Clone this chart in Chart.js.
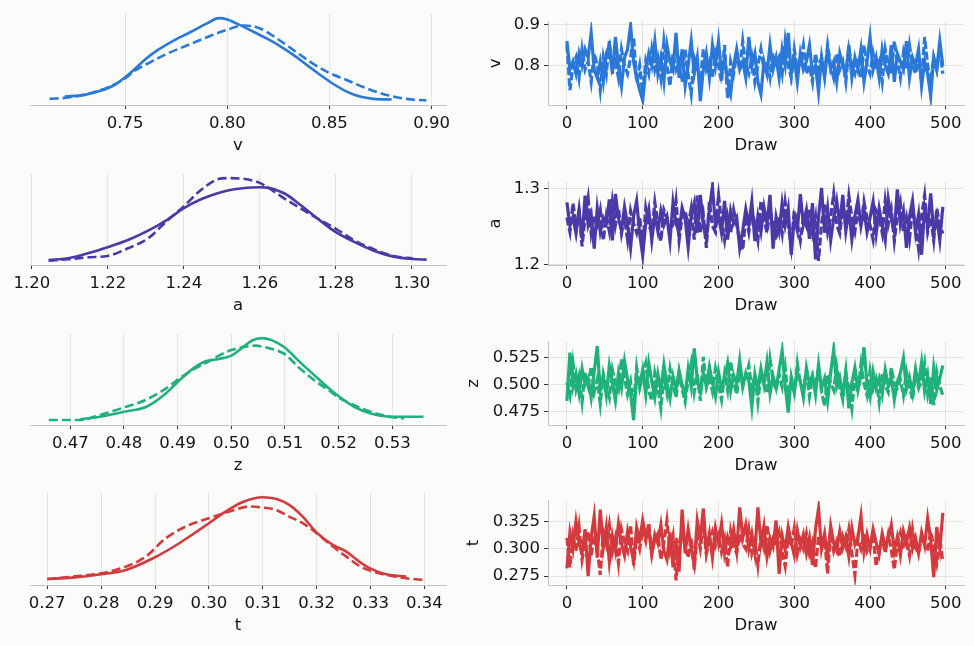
<!DOCTYPE html>
<html>
<head>
<meta charset="utf-8">
<script src="https://cdn.jsdelivr.net/npm/chart.js@4.4.1/dist/chart.umd.min.js"></script>
<style>
  html, body { margin: 0; padding: 0; background: #fbfbf9; }
  body { width: 974px; height: 646px; position: relative; overflow: hidden; }
  canvas { position: absolute; }
</style>
</head>
<body>
<script>
// ---------------- data ----------------
const varNames = ['v', 'a', 'z', 't'];

// KDE curves (x = parameter value, y = relative density), solid = chain 0, dashed = chain 1
const vSolidX = [0.7205, 0.7302, 0.7383, 0.7448, 0.7500, 0.7545, 0.7594, 0.7659, 0.7740, 0.7821, 0.7903, 0.7959, 0.8000, 0.8065, 0.8130, 0.8195, 0.8260, 0.8325, 0.8390, 0.8455, 0.8519, 0.8584, 0.8649, 0.8714, 0.8804];
const vSolidY = [0.052, 0.072, 0.124, 0.191, 0.283, 0.378, 0.490, 0.610, 0.729, 0.829, 0.936, 0.996, 0.980, 0.908, 0.829, 0.749, 0.657, 0.550, 0.430, 0.311, 0.203, 0.112, 0.052, 0.024, 0.016];
const vDashX = [0.7131, 0.7221, 0.7318, 0.7416, 0.7500, 0.7545, 0.7627, 0.7708, 0.7805, 0.7903, 0.8000, 0.8081, 0.8162, 0.8244, 0.8325, 0.8406, 0.8487, 0.8584, 0.8682, 0.8779, 0.8877, 0.8974];
const vDashY = [0.024, 0.040, 0.084, 0.163, 0.271, 0.359, 0.470, 0.570, 0.669, 0.769, 0.857, 0.908, 0.869, 0.749, 0.610, 0.470, 0.351, 0.251, 0.151, 0.072, 0.024, 0.004];

const aSolidX = [1.2044, 1.2096, 1.2148, 1.2199, 1.2253, 1.2306, 1.2358, 1.2399, 1.2445, 1.2489, 1.2533, 1.2598, 1.2620, 1.2664, 1.2707, 1.2751, 1.2798, 1.2847, 1.2900, 1.2952, 1.3002, 1.3039];
const aSolidY = [0.010, 0.031, 0.091, 0.164, 0.252, 0.365, 0.502, 0.635, 0.744, 0.817, 0.865, 0.890, 0.885, 0.817, 0.676, 0.515, 0.353, 0.232, 0.123, 0.051, 0.023, 0.015];
const aDashX = [1.2044, 1.2096, 1.2148, 1.2199, 1.2253, 1.2306, 1.2358, 1.2399, 1.2445, 1.2489, 1.2515, 1.2550, 1.2598, 1.2620, 1.2664, 1.2707, 1.2751, 1.2798, 1.2847, 1.2900, 1.2952, 1.3002];
const aDashY = [0.002, 0.019, 0.043, 0.059, 0.152, 0.273, 0.494, 0.656, 0.857, 0.986, 1.000, 0.995, 0.946, 0.890, 0.756, 0.635, 0.515, 0.394, 0.252, 0.140, 0.059, 0.031];

const zSolidX = [0.4718, 0.4755, 0.4800, 0.4842, 0.4878, 0.4900, 0.4928, 0.4952, 0.4977, 0.5000, 0.5020, 0.5038, 0.5057, 0.5075, 0.5099, 0.5125, 0.5155, 0.5186, 0.5200, 0.5229, 0.5260, 0.5300, 0.5358];
const zSolidY = [0.019, 0.051, 0.111, 0.172, 0.333, 0.474, 0.635, 0.728, 0.756, 0.797, 0.890, 0.978, 1.010, 0.986, 0.898, 0.736, 0.555, 0.373, 0.301, 0.172, 0.091, 0.051, 0.051];
const zDashX = [0.4660, 0.4718, 0.4755, 0.4800, 0.4842, 0.4878, 0.4900, 0.4928, 0.4952, 0.4977, 0.5000, 0.5026, 0.5045, 0.5063, 0.5099, 0.5125, 0.5155, 0.5186, 0.5200, 0.5229, 0.5260, 0.5300, 0.5322];
const zDashY = [0.010, 0.010, 0.071, 0.164, 0.260, 0.394, 0.502, 0.623, 0.704, 0.797, 0.865, 0.906, 0.918, 0.898, 0.817, 0.656, 0.494, 0.353, 0.285, 0.192, 0.111, 0.043, 0.031];

const tSolidX = [0.2700, 0.2746, 0.2800, 0.2846, 0.2900, 0.2945, 0.2982, 0.3000, 0.3031, 0.3062, 0.3100, 0.3124, 0.3149, 0.3174, 0.3200, 0.3230, 0.3255, 0.3279, 0.3299, 0.3329, 0.3366];
const tSolidY = [0.022, 0.038, 0.078, 0.130, 0.282, 0.450, 0.610, 0.690, 0.830, 0.942, 1.002, 0.982, 0.910, 0.770, 0.578, 0.430, 0.350, 0.230, 0.150, 0.078, 0.050];
const tDashX = [0.2700, 0.2746, 0.2800, 0.2846, 0.2883, 0.2920, 0.2957, 0.3000, 0.3044, 0.3075, 0.3100, 0.3124, 0.3149, 0.3174, 0.3200, 0.3230, 0.3255, 0.3279, 0.3299, 0.3329, 0.3366, 0.3400];
const tDashY = [0.022, 0.050, 0.090, 0.170, 0.290, 0.510, 0.650, 0.750, 0.842, 0.890, 0.878, 0.850, 0.770, 0.690, 0.570, 0.410, 0.290, 0.178, 0.122, 0.070, 0.030, 0.010];

// trace values, one every 4 draws (0, 4, ..., 496)
const drawStep = 4;
const vChain0 = [0.86,0.79,0.81,0.78,0.83,0.80,0.84,0.82,0.88,0.79, 0.77,0.81,0.76,0.83,0.85,0.78,0.87,0.80,0.75,0.82,
  0.84,0.898,0.81,0.77,0.74,0.715,0.79,0.83,0.80,0.86, 0.78,0.82,0.76,0.85,0.81,0.79,0.88,0.77,0.84,0.75,
  0.80,0.86,0.78,0.82,0.713,0.79,0.83,0.77,0.85,0.80, 0.86,0.78,0.82,0.76,0.73,0.80,0.84,0.79,0.81,0.77,
  0.87,0.80,0.83,0.76,0.73,0.81,0.78,0.85,0.79,0.82, 0.77,0.84,0.80,0.88,0.78,0.82,0.76,0.83,0.79,0.81,
  0.85,0.78,0.80,0.735,0.82,0.77,0.84,0.79,0.81,0.76, 0.83,0.80,0.78,0.85,0.77,0.82,0.79,0.84,0.76,0.81,
  0.87,0.79,0.82,0.77,0.84,0.80,0.78,0.85,0.76,0.83, 0.81,0.79,0.86,0.77,0.82,0.80,0.84,0.75,0.81,0.78,
  0.725,0.82,0.79,0.86,0.80];
const vChain1 = [0.85,0.74,0.80,0.82,0.77,0.84,0.79,0.81,0.76,0.83, 0.80,0.74,0.82,0.78,0.86,0.79,0.81,0.77,0.84,0.80,
  0.78,0.82,0.87,0.76,0.80,0.73,0.81,0.78,0.84,0.79, 0.82,0.77,0.86,0.80,0.75,0.83,0.79,0.81,0.76,0.84,
  0.78,0.73,0.82,0.80,0.76,0.84,0.79,0.81,0.77,0.83, 0.80,0.76,0.85,0.72,0.81,0.78,0.83,0.79,0.86,0.80,
  0.78,0.82,0.76,0.80,0.84,0.79,0.81,0.77,0.83,0.80, 0.82,0.78,0.86,0.80,0.77,0.84,0.79,0.81,0.85,0.78,
  0.80,0.76,0.83,0.79,0.82,0.78,0.85,0.80,0.77,0.83, 0.79,0.81,0.76,0.84,0.80,0.78,0.82,0.77,0.85,0.80,
  0.78,0.83,0.79,0.81,0.76,0.84,0.80,0.78,0.86,0.81, 0.77,0.83,0.79,0.85,0.80,0.78,0.82,0.76,0.87,0.80,
  0.76,0.82,0.79,0.84,0.78];

const aChain0 = [1.282,1.251,1.263,1.241,1.272,1.234,1.291,1.252,1.266,1.221, 1.274,1.243,1.262,1.254,1.286,1.232,1.293,1.261,1.245,1.276,
  1.253,1.222,1.264,1.284,1.241,1.212,1.255,1.273,1.232,1.266, 1.244,1.271,1.252,1.263,1.231,1.282,1.254,1.243,1.275,1.261,
  1.223,1.264,1.281,1.242,1.292,1.253,1.234,1.272,1.303,1.251, 1.265,1.242,1.284,1.233,1.271,1.254,1.262,1.222,1.245,1.273,
  1.252,1.283,1.231,1.264,1.243,1.276,1.254,1.292,1.221,1.263, 1.244,1.281,1.252,1.274,1.213,1.262,1.245,1.293,1.253,1.272,
  1.234,1.281,1.207,1.263,1.301,1.242,1.274,1.232,1.261,1.284, 1.253,1.292,1.244,1.272,1.233,1.264,1.285,1.251,1.273,1.243,
  1.262,1.283,1.241,1.274,1.252,1.232,1.286,1.261,1.244,1.299, 1.253,1.271,1.222,1.263,1.284,1.242,1.266,1.213,1.275,1.252,
  1.294,1.241,1.263,1.232,1.276];
const aChain1 = [1.262,1.243,1.281,1.252,1.271,1.224,1.263,1.288,1.242,1.265, 1.253,1.272,1.232,1.264,1.244,1.283,1.252,1.274,1.241,1.262,
  1.233,1.271,1.254,1.242,1.263,1.222,1.274,1.251,1.243,1.282, 1.254,1.231,1.272,1.262,1.244,1.253,1.284,1.232,1.263,1.271,
  1.252,1.274,1.233,1.291,1.242,1.265,1.222,1.283,1.251,1.243, 1.292,1.254,1.232,1.263,1.241,1.272,1.253,1.231,1.219,1.264,
  1.243,1.272,1.254,1.232,1.284,1.261,1.242,1.273,1.252,1.233, 1.264,1.241,1.282,1.253,1.223,1.271,1.254,1.232,1.262,1.251,
  1.273,1.242,1.263,1.205,1.254,1.281,1.243,1.262,1.293,1.252, 1.241,1.274,1.253,1.291,1.262,1.244,1.272,1.251,1.283,1.261,
  1.252,1.233,1.271,1.263,1.242,1.284,1.253,1.272,1.231,1.264, 1.282,1.243,1.262,1.234,1.273,1.251,1.221,1.264,1.291,1.243,
  1.262,1.232,1.274,1.252,1.241];

const zChain0 = [0.485,0.530,0.498,0.510,0.492,0.515,0.500,0.506,0.488,0.512, 0.536,0.495,0.508,0.490,0.518,0.502,0.485,0.511,0.497,0.522,
  0.505,0.492,0.467,0.509,0.499,0.514,0.491,0.520,0.503,0.488, 0.510,0.495,0.519,0.501,0.487,0.508,0.496,0.513,0.500,0.490,
  0.515,0.498,0.534,0.505,0.493,0.511,0.499,0.517,0.502,0.489, 0.512,0.497,0.506,0.520,0.494,0.509,0.501,0.523,0.498,0.511,
  0.504,0.479,0.510,0.496,0.515,0.500,0.521,0.492,0.508,0.497, 0.514,0.532,0.499,0.474,0.507,0.493,0.512,0.503,0.488,0.516,
  0.501,0.509,0.491,0.519,0.497,0.506,0.485,0.511,0.533,0.498, 0.507,0.490,0.513,0.478,0.502,0.516,0.495,0.509,0.535,0.500,
  0.488,0.512,0.497,0.506,0.491,0.514,0.499,0.508,0.486,0.503, 0.511,0.525,0.496,0.507,0.492,0.515,0.500,0.521,0.494,0.509,
  0.482,0.516,0.495,0.506,0.518];
const zChain1 = [0.502,0.490,0.520,0.496,0.508,0.484,0.512,0.499,0.517,0.493, 0.505,0.482,0.510,0.498,0.488,0.514,0.501,0.495,0.524,0.507,
  0.491,0.503,0.480,0.516,0.497,0.509,0.520,0.494,0.485,0.511, 0.498,0.478,0.507,0.492,0.515,0.500,0.488,0.512,0.496,0.484,
  0.505,0.520,0.493,0.510,0.485,0.526,0.498,0.507,0.494,0.515, 0.500,0.486,0.510,0.495,0.522,0.503,0.491,0.513,0.499,0.507,
  0.518,0.496,0.509,0.484,0.511,0.500,0.492,0.524,0.505,0.495, 0.510,0.498,0.516,0.487,0.506,0.493,0.520,0.501,0.496,0.512,
  0.489,0.507,0.499,0.515,0.494,0.480,0.510,0.502,0.495,0.517, 0.498,0.486,0.511,0.497,0.478,0.508,0.493,0.519,0.501,0.490,
  0.513,0.496,0.505,0.484,0.510,0.499,0.493,0.516,0.501,0.497, 0.505,0.490,0.512,0.498,0.486,0.509,0.497,0.503,0.520,0.492,
  0.508,0.481,0.512,0.499,0.490];

const tChain0 = [0.282,0.315,0.300,0.325,0.305,0.296,0.318,0.275,0.310,0.330, 0.292,0.336,0.301,0.320,0.288,0.312,0.298,0.323,0.305,0.294,
  0.316,0.302,0.289,0.320,0.308,0.326,0.311,0.318,0.295,0.313, 0.305,0.322,0.298,0.290,0.315,0.283,0.310,0.279,0.336,0.296,
  0.318,0.300,0.286,0.326,0.309,0.337,0.298,0.314,0.292,0.319, 0.305,0.323,0.296,0.311,0.302,0.318,0.298,0.338,0.310,0.322,
  0.300,0.314,0.296,0.338,0.305,0.321,0.293,0.310,0.302,0.326, 0.277,0.312,0.299,0.320,0.306,0.294,0.317,0.302,0.313,0.296,
  0.310,0.285,0.318,0.337,0.300,0.314,0.292,0.321,0.305,0.298, 0.316,0.301,0.311,0.293,0.319,0.304,0.310,0.330,0.297,0.313,
  0.300,0.318,0.306,0.295,0.314,0.302,0.309,0.322,0.298,0.311, 0.294,0.316,0.305,0.319,0.300,0.310,0.296,0.315,0.303,0.328,
  0.308,0.274,0.320,0.300,0.333];
const tChain1 = [0.310,0.283,0.312,0.298,0.320,0.290,0.305,0.316,0.294,0.312, 0.300,0.276,0.315,0.304,0.322,0.297,0.310,0.287,0.318,0.306,
  0.298,0.322,0.285,0.311,0.300,0.318,0.307,0.324,0.296,0.309, 0.314,0.290,0.306,0.326,0.299,0.312,0.271,0.304,0.318,0.301,
  0.292,0.310,0.281,0.315,0.300,0.321,0.295,0.308,0.316,0.303, 0.312,0.297,0.309,0.283,0.316,0.302,0.296,0.313,0.305,0.300,
  0.318,0.296,0.307,0.285,0.313,0.301,0.322,0.298,0.309,0.303, 0.315,0.297,0.284,0.311,0.302,0.319,0.295,0.308,0.300,0.314,
  0.296,0.306,0.282,0.312,0.301,0.309,0.277,0.315,0.298,0.307, 0.293,0.311,0.302,0.318,0.296,0.276,0.309,0.300,0.314,0.298,
  0.305,0.312,0.284,0.301,0.310,0.296,0.313,0.299,0.281,0.306, 0.315,0.300,0.309,0.294,0.318,0.301,0.296,0.312,0.304,0.298,
  0.316,0.302,0.287,0.309,0.288];

// axis ticks and ranges
const vValueTicks = [0.75, 0.80, 0.85, 0.90];
const aValueTicks = [1.20, 1.22, 1.24, 1.26, 1.28, 1.30];
const zValueTicks = [0.47, 0.48, 0.49, 0.50, 0.51, 0.52, 0.53];
const tValueTicks = [0.27, 0.28, 0.29, 0.30, 0.31, 0.32, 0.33, 0.34];
const vTraceTicks = [0.8, 0.9];
const aTraceTicks = [1.2, 1.3];
const zTraceTicks = [0.475, 0.500, 0.525];
const tTraceTicks = [0.275, 0.300, 0.325];
const drawTicks = [0, 100, 200, 300, 400, 500];
const vRange = [0.7035, 0.9070];
const aRange = [1.1995, 1.3090];
const zRange = [0.4625, 0.5400];
const tRange = [0.2668, 0.3440];
const drawRange = [-24.95, 523.95];

// ---------------- style / layout ----------------
const colors = ['#2a78d8', '#4a39a7', '#20b07b', '#d33a3e'];
const gridColor = '#e3e3df';
const spineColor = '#c4c4c0';
const textColor = '#151515';
const rowTop = [14, 174, 334, 493];
const rowBot = [105, 265, 425, 585];
const plotW = 416;
const axisH = 55;

Chart.defaults.font.family = '"DejaVu Sans", sans-serif';
Chart.defaults.font.size = 16.5;
Chart.defaults.color = textColor;

function addCanvas(left, top, w, h) {
    const c = document.createElement('canvas');
    c.width = w;
    c.height = h;
    c.style.left = left + 'px';
    c.style.top = top + 'px';
    c.style.width = w + 'px';
    c.style.height = h + 'px';
    document.body.appendChild(c);
    return c;
}

function pts(xs, ys) {
    return xs.map((x, k) => ({ x: x, y: ys[k] }));
}

function xAxis(range, ticks, dec, title) {
    return {
        type: 'linear',
        min: range[0],
        max: range[1],
        afterBuildTicks: s => { s.ticks = ticks.map(v => ({ value: v })); },
        afterFit: s => { s.height = axisH; },
        ticks: { callback: v => v.toFixed(dec), padding: 5, maxRotation: 0, autoSkip: false, color: textColor },
        grid: { color: gridColor, lineWidth: 1, tickColor: '#333', tickLength: 4 },
        border: { color: spineColor, width: 1 },
        title: { display: true, text: title, color: textColor, padding: { top: 0, bottom: 4 } }
    };
}

//////////////////////////////// KDE panels ////////////////////////////////
function kdePanel(i, sx, sy, dx, dy, ticks, dec, range) {
    const peak = Math.max(...sy, ...dy);
    const h = rowBot[i] - rowTop[i];
    const c = addCanvas(0, rowTop[i] - 6, 30 + plotW + 41, h + 6 + axisH);
    new Chart(c, {
        type: 'line',
        data: {
            datasets: [{
                data: pts(dx, dy),
                borderColor: colors[i],
                borderWidth: 2.6,
                borderDash: [9, 4],
                pointRadius: 0,
                cubicInterpolationMode: 'monotone'
            }, {
                data: pts(sx, sy),
                borderColor: colors[i],
                borderWidth: 2.6,
                pointRadius: 0,
                cubicInterpolationMode: 'monotone'
            }]
        },
        options: {
            responsive: false,
            animation: false,
            events: [],
            layout: { padding: { top: 6, left: 30, right: 41, bottom: 0 } },
            plugins: { legend: { display: false }, tooltip: { enabled: false } },
            scales: {
                x: xAxis(range, ticks, dec, varNames[i]),
                y: { display: false, min: -0.05 * peak, max: 1.05 * peak }
            }
        }
    });
}

//////////////////////////////// trace panels ////////////////////////////////
function tracePanel(i, c0, c1, yTicks, dec, range, yw) {
    const h = rowBot[i] - rowTop[i];
    const c = addCanvas(548 - yw, rowTop[i] - 6, yw + plotW + 10, h + 6 + axisH);
    const draws = c0.map((_, k) => k * drawStep);
    new Chart(c, {
        type: 'line',
        data: {
            datasets: [{
                data: pts(draws, c1),
                borderColor: colors[i],
                borderWidth: 3.2,
                borderDash: [8, 3],
                pointRadius: 0
            }, {
                data: pts(draws, c0),
                borderColor: colors[i],
                borderWidth: 3.2,
                pointRadius: 0
            }]
        },
        options: {
            responsive: false,
            animation: false,
            events: [],
            layout: { padding: { top: 6, left: 0, right: 10, bottom: 0 } },
            plugins: { legend: { display: false }, tooltip: { enabled: false } },
            scales: {
                x: xAxis(drawRange, drawTicks, 0, 'Draw'),
                y: {
                    type: 'linear',
                    min: range[0],
                    max: range[1],
                    afterBuildTicks: s => { s.ticks = yTicks.map(v => ({ value: v })); },
                    afterFit: s => { s.width = yw; },
                    ticks: { callback: v => v.toFixed(dec), padding: 4, color: textColor },
                    grid: { color: gridColor, lineWidth: 1, tickColor: '#333', tickLength: 4 },
                    border: { color: spineColor, width: 1 },
                    title: { display: true, text: varNames[i], color: textColor, padding: { top: 0, bottom: 0 } }
                }
            }
        }
    });
}

kdePanel(0, vSolidX, vSolidY, vDashX, vDashY, vValueTicks, 2, vRange);
kdePanel(1, aSolidX, aSolidY, aDashX, aDashY, aValueTicks, 2, aRange);
kdePanel(2, zSolidX, zSolidY, zDashX, zDashY, zValueTicks, 2, zRange);
kdePanel(3, tSolidX, tSolidY, tDashX, tDashY, tValueTicks, 2, tRange);

tracePanel(0, vChain0, vChain1, vTraceTicks, 1, vRange, 62);
tracePanel(1, aChain0, aChain1, aTraceTicks, 1, aRange, 62);
tracePanel(2, zChain0, zChain1, zTraceTicks, 3, zRange, 84);
tracePanel(3, tChain0, tChain1, tTraceTicks, 3, tRange, 84);
</script>
</body>
</html>
